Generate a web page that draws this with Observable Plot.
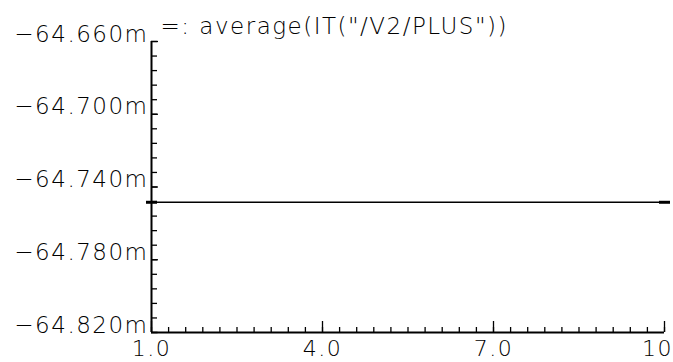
<!DOCTYPE html>
<html>
<head>
<meta charset="utf-8">
<script src="https://cdn.jsdelivr.net/npm/d3@7"></script>
<script src="https://cdn.jsdelivr.net/npm/@observablehq/plot@0.6"></script>
<style>
  html, body { margin: 0; padding: 0; background: #fff; }
  body { width: 673px; height: 362px; overflow: hidden; }
  svg text { letter-spacing: 1.5px; }
</style>
</head>
<body>
<div id="chart"></div>
<script>
// Data (values in milli-units)
const title = '=: average(IT("/V2/PLUS"))';
const xValues = [1, 10];
const yValues = [-64.7484, -64.7484];
const xMajor = [1, 4, 7, 10];
const xLabels = ["1.0", "4.0", "7.0", "10"];
const yMajor = [-64.82, -64.78, -64.74, -64.70, -64.66];
const yLabels = ["\u221264.820m", "\u221264.780m", "\u221264.740m", "\u221264.700m", "\u221264.660m"];
const xMinor = d3.range(1, 10.0001, 0.3);
const yMinor = d3.range(-64.82, -64.6599, 0.008);

const series = xValues.map((x, i) => ({x, y: yValues[i]}));
const ends = [series[0], series[series.length - 1]];

const endSymbol = {
  draw(ctx) { ctx.rect(-5.5, -1.5, 11, 3); }
};
const xFmt = (d) => xLabels[xMajor.indexOf(d)];

const chart = Plot.plot({
  width: 673,
  height: 362,
  marginLeft: 151,
  marginRight: 9,
  marginTop: 41,
  marginBottom: 30,
  style: {fontFamily: "DejaVu Sans", fontSize: "23px", fontWeight: 200, color: "#000", background: "#fff", overflow: "visible"},
  x: {domain: [1, 10]},
  y: {domain: [-64.82, -64.66]},
  marks: [
    // minor ticks (inward)
    Plot.axisX({ticks: xMinor, tickSize: -5, text: null, strokeWidth: 1.3, label: null}),
    Plot.axisY({ticks: yMinor, tickSize: -6, text: null, strokeWidth: 1.3, label: null}),
    // major ticks (inward)
    Plot.axisX({ticks: xMajor, tickSize: -11, text: null, strokeWidth: 1.3, label: null}),
    Plot.axisY({ticks: yMajor, tickSize: -7, text: null, strokeWidth: 1.3, label: null}),
    // labels
    Plot.axisX({ticks: xMajor.slice(0, 3), tickSize: 0, tickPadding: 8, tickFormat: xFmt, label: null, fontSize: 22}),
    Plot.axisX({ticks: xMajor.slice(3), tickSize: 0, tickPadding: 8, dx: -7, tickFormat: xFmt, label: null, fontSize: 22}),
    Plot.axisY({ticks: yMajor, tickSize: 0, tickPadding: 3, lineAnchor: "bottom", tickFormat: (d) => yLabels[yMajor.findIndex(v => Math.abs(v - d) < 1e-9)], label: null, fontSize: 23}),
    // axis lines
    Plot.ruleX([1], {strokeWidth: 2}),
    Plot.ruleY([-64.82], {strokeWidth: 2}),
    // title
    Plot.text([title], {frameAnchor: "top-left", dx: 9, dy: -8, textAnchor: "start", lineAnchor: "bottom", fontSize: 23}),
    // series
    Plot.line(series, {x: "x", y: "y", stroke: "#000", strokeWidth: 1.6}),
    Plot.dot(ends, {x: "x", y: "y", symbol: endSymbol, r: 1, fill: "#000", stroke: null})
  ]
});
document.getElementById("chart").appendChild(chart);
</script>
</body>
</html>
